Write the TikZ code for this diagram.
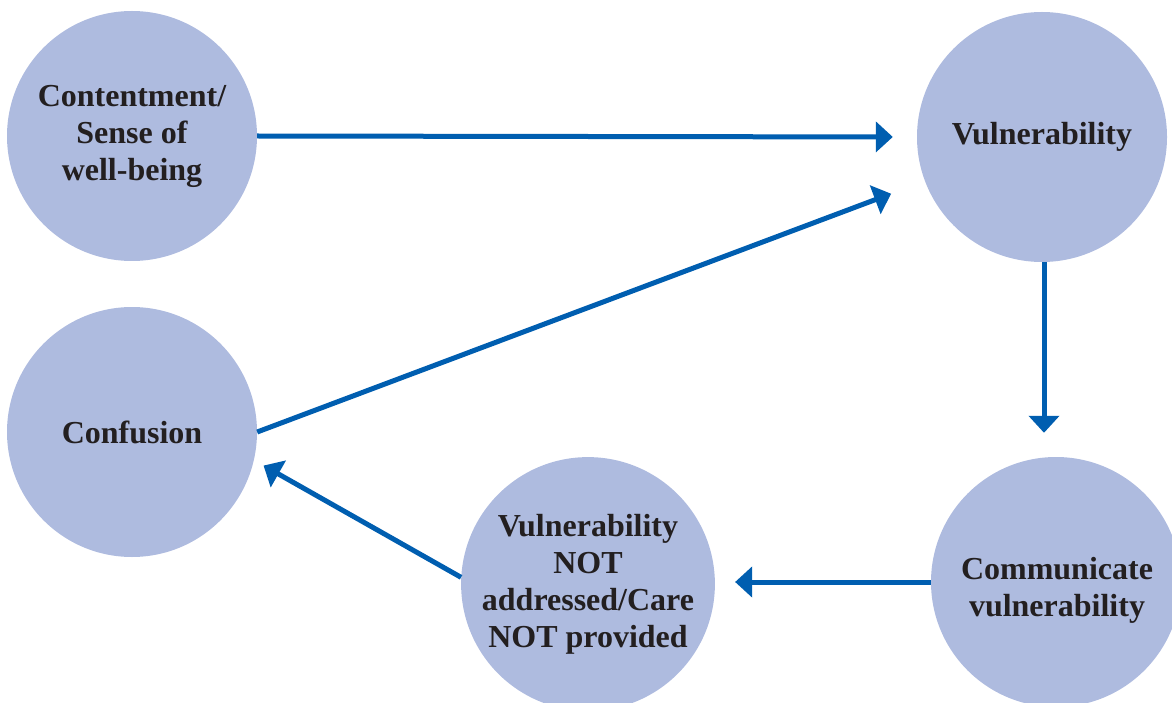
\documentclass[tikz,border=0pt]{standalone}
\usepackage{fontspec}
\setmainfont{Liberation Serif}
\usetikzlibrary{arrows.meta}
\definecolor{circfill}{RGB}{174,187,223}
\definecolor{arrowblue}{RGB}{0,94,176}
\definecolor{txt}{RGB}{35,31,32}
\tikzset{
  stage/.style={circle, fill=circfill, draw=none, minimum size=250pt, inner sep=0pt,
    align=center, text=txt, font=\fontsize{32}{37}\selectfont\bfseries},
  flow/.style={draw=arrowblue, line width=5pt, -{Triangle[width=30pt,length=17pt]}}
}
\begin{document}
\begin{tikzpicture}[x=1pt,y=-1pt]
\useasboundingbox (0,0) rectangle (1172,703);
\node[stage] (cont) at (132,136) {Contentment/\\Sense of\\well-being};
\node[stage] (vul) at (1042,137) {Vulnerability};
\node[stage] (conf) at (132,432) {Confusion};
\node[stage] (vnot) at (588,584) {Vulnerability\\NOT\\addressed/Care\\NOT provided};
\node[stage] (comm) at (1056,582) {};
\node[text=txt, align=center, font=\fontsize{32}{37}\selectfont\bfseries] (commtext) at (1057,590) {Communicate\\vulnerability};
\draw[flow, shorten >=24pt] (cont.east) -- (vul.west);
\draw[flow, shorten >=36pt] (conf.east) -- (vul);
\draw[flow, shorten >=24pt] ([xshift=2pt]vul.south) -- ([xshift=2pt]vul.south |- comm.north);
\draw[flow, shorten >=20pt] (comm.west) -- (comm.west -| vnot.east);
\draw[flow, shorten >=11pt] (vnot.177) -- (conf.-13);
\end{tikzpicture}
\end{document}
